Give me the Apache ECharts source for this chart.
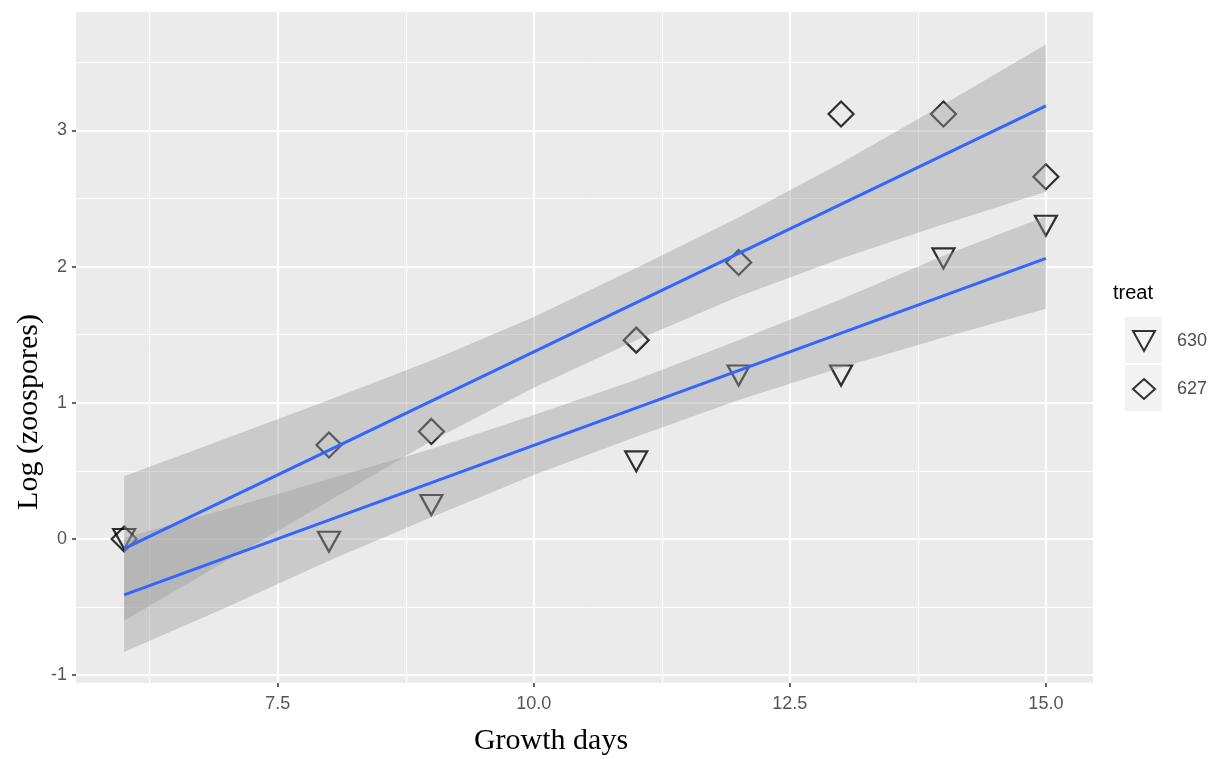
<!DOCTYPE html>
<html><head><meta charset="utf-8">
<script src="https://cdn.jsdelivr.net/npm/echarts@6/dist/echarts.min.js"></script>
<style>html,body{margin:0;padding:0;background:#fff}#c{width:1212px;height:759px}</style>
</head><body><div id="c"></div>
<script>
// ---- data ----
const days = [6, 8, 9, 11, 12, 13, 14, 15];
const treat630 = [0.00, -0.02, 0.25, 0.57, 1.20, 1.20, 2.06, 2.30];
const treat627 = [0.00, 0.69, 0.79, 1.46, 2.03, 3.12, 3.12, 2.66];
const fitX = [6, 15];
const fit630 = [-0.41, 2.06];
const fit627 = [-0.07, 3.18];
const bandX = [6, 7, 8, 9, 10, 11, 12, 13, 14, 15];
const band630Lo = [-0.83, -0.50, -0.16, 0.16, 0.47, 0.75, 1.02, 1.26, 1.48, 1.69];
const band630Hi = [0.01, 0.22, 0.44, 0.66, 0.91, 1.17, 1.46, 1.76, 2.08, 2.37];
const band627Lo = [-0.60, -0.16, 0.28, 0.72, 1.11, 1.46, 1.78, 2.06, 2.31, 2.55];
const band627Hi = [0.46, 0.74, 1.02, 1.31, 1.63, 1.99, 2.36, 2.76, 3.19, 3.63];
const xMajor = [7.5, 10, 12.5, 15];
const xMinor = [6.25, 8.75, 11.25, 13.75];
const yMajor = [-1, 0, 1, 2, 3];
const yMinor = [-0.5, 0.5, 1.5, 2.5, 3.5];
const seriesNames = ['630', '627'];

const SANS = 'Liberation Sans, Arial, sans-serif';
const SERIF = 'Liberation Serif, Times New Roman, serif';
const X_MIN = 5.53, X_MAX = 15.46, Y_MIN = -1.057, Y_MAX = 3.869;

function pairs(xs, ys) { return xs.map((x, i) => [x, ys[i]]); }

function bandSeries(lo, hi) {
  return {
    type: 'custom',
    silent: true,
    z: 3,
    data: bandX.map((x, i) => [x, lo[i], hi[i]]),
    encode: { x: 0, y: [1, 2] },
    renderItem: function (params, api) {
      if (params.dataIndex !== 0) return null;
      const pts = [];
      for (let i = 0; i < bandX.length; i++) pts.push(api.coord([bandX[i], hi[i]]));
      for (let i = bandX.length - 1; i >= 0; i--) pts.push(api.coord([bandX[i], lo[i]]));
      return { type: 'polygon', shape: { points: pts }, style: { fill: 'rgba(153,153,153,0.4)' } };
    }
  };
}

const TRI_DOWN = 'path://M0,0 L22,0 L11,20 Z';

const chart = echarts.init(document.getElementById('c'), null, { renderer: 'canvas' });
chart.setOption({
  animation: false,
  backgroundColor: '#ffffff',
  grid: { left: 76, top: 12, right: 119, bottom: 76, show: true, backgroundColor: '#EBEBEB', borderWidth: 0 },
  xAxis: [
    {
      type: 'value', min: X_MIN, max: X_MAX,
      axisLine: { show: false, onZero: false },
      axisTick: { show: true, length: 4, customValues: xMajor, lineStyle: { color: '#333333', width: 1.5 } },
      axisLabel: { customValues: xMajor, formatter: v => v.toFixed(1), color: '#555555', fontSize: 18, fontFamily: SANS, margin: 12 },
      splitLine: { show: true, lineStyle: { color: '#ffffff', width: 2 } }
    },
    {
      type: 'value', min: X_MIN, max: X_MAX, position: 'bottom',
      axisLine: { show: false, onZero: false },
      axisTick: { show: false, customValues: xMinor },
      axisLabel: { show: false, customValues: xMinor },
      splitLine: { show: true, lineStyle: { color: '#ffffff', width: 1 } }
    }
  ],
  yAxis: [
    {
      type: 'value', min: Y_MIN, max: Y_MAX,
      axisLine: { show: false, onZero: false },
      axisTick: { show: true, length: 4, customValues: yMajor, lineStyle: { color: '#333333', width: 1.5 } },
      axisLabel: { customValues: yMajor, formatter: v => String(v), color: '#555555', fontSize: 18, fontFamily: SANS, margin: 9 },
      splitLine: { show: true, lineStyle: { color: '#ffffff', width: 2 } }
    },
    {
      type: 'value', min: Y_MIN, max: Y_MAX, position: 'left',
      axisLine: { show: false, onZero: false },
      axisTick: { show: false, customValues: yMinor },
      axisLabel: { show: false, customValues: yMinor },
      splitLine: { show: true, lineStyle: { color: '#ffffff', width: 1 } }
    }
  ],
  legend: {
    data: [
      { name: seriesNames[0], icon: TRI_DOWN },
      { name: seriesNames[1], icon: 'diamond' }
    ],
    orient: 'vertical',
    left: 1127, top: 325,
    itemWidth: 22, itemHeight: 20, itemGap: 26,
    textStyle: { fontSize: 18, color: '#4D4D4D', fontFamily: SANS, padding: [0, 0, 0, 17] },
    selectedMode: false
  },
  graphic: [
    { type: 'rect', left: 1125, top: 317, shape: { width: 37, height: 46 }, style: { fill: '#F2F2F2' }, z: -1 },
    { type: 'rect', left: 1125, top: 365, shape: { width: 37, height: 46 }, style: { fill: '#F2F2F2' }, z: -1 },
    { type: 'text', left: 1113, top: 283, style: { text: 'treat', font: '20px ' + SANS, fill: '#000000' } },
    { type: 'text', x: 551, y: 741, style: { text: 'Growth days', font: '30px ' + SERIF, fill: '#000000', textAlign: 'center', textVerticalAlign: 'middle' } },
    { type: 'text', x: 29, y: 412, rotation: Math.PI / 2, style: { text: 'Log (zoospores)', font: '30px ' + SERIF, fill: '#000000', textAlign: 'center', textVerticalAlign: 'middle' } }
  ],
  series: [
    {
      name: '630', type: 'scatter', z: 2,
      data: pairs(days, treat630),
      symbol: 'triangle', symbolSize: [22, 20], symbolRotate: 180,
      itemStyle: { color: 'rgba(0,0,0,0)', borderColor: '#000000', borderWidth: 2.2 }
    },
    {
      name: '627', type: 'scatter', z: 2,
      data: pairs(days, treat627),
      symbol: 'diamond', symbolSize: [25, 25],
      itemStyle: { color: 'rgba(0,0,0,0)', borderColor: '#000000', borderWidth: 2.2 }
    },
    bandSeries(band630Lo, band630Hi),
    bandSeries(band627Lo, band627Hi),
    {
      type: 'line', z: 4, silent: true, symbol: 'none',
      data: pairs(fitX, fit630),
      lineStyle: { color: '#3366FF', width: 3 }
    },
    {
      type: 'line', z: 4, silent: true, symbol: 'none',
      data: pairs(fitX, fit627),
      lineStyle: { color: '#3366FF', width: 3 }
    }
  ]
});
</script>
</body></html>
